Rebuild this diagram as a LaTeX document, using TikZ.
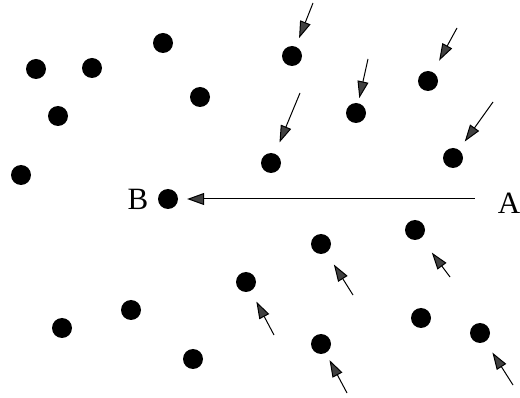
\documentclass[tikz,border=0pt]{standalone}
\usepackage{fontspec}
\setmainfont{Liberation Serif}
\usetikzlibrary{arrows.meta}
\tikzset{
  dot/.style={circle,fill=black,minimum size=20pt,inner sep=0pt},
  flow/.style={-{Triangle[length=17pt,width=11pt,fill=gray!50!black]},line width=1pt},
  lbl/.style={inner sep=0pt,font=\fontsize{31}{31}\selectfont}
}
\begin{document}
\begin{tikzpicture}[x=1pt,y=-1pt]
\useasboundingbox (0,0) rectangle (520,398);

% dots on the left, no arrows
\node[dot] (p1) at (36,69) {};
\node[dot] (p2) at (92,68) {};
\node[dot] (p3) at (163,43) {};
\node[dot] (p4) at (58,116) {};
\node[dot] (p5) at (200,97) {};
\node[dot] (p6) at (21,175) {};
\node[dot] (p7) at (62,328) {};
\node[dot] (p8) at (131,310) {};
\node[dot] (p9) at (193,359) {};
\node[dot] (p10) at (421,318) {};

% dots hit by arrows
\node[dot] (a1) at (292,56) {};
\node[dot] (a2) at (428,81) {};
\node[dot] (a3) at (356,113) {};
\node[dot] (a4) at (271,163) {};
\node[dot] (a5) at (453,158) {};
\node[dot] (a6) at (321,244) {};
\node[dot] (a7) at (415,230) {};
\node[dot] (a8) at (480,333) {};
\node[dot] (a9) at (321,344) {};
\node[dot] (a10) at (246,282) {};

\coordinate (t1) at (313,3);
\coordinate (t2) at (457,28);
\coordinate (t3) at (368,59);
\coordinate (t4) at (300,93);
\coordinate (t5) at (493,102);
\coordinate (t6) at (353,295);
\coordinate (t7) at (450,277);
\coordinate (t8) at (513,385);
\coordinate (t9) at (347,393);
\coordinate (t10) at (274,335);

\foreach \i/\g in {1/9,2/13,3/5,4/12,5/10,6/14,7/18,8/13,9/8,10/12}
  \draw[flow,shorten >=\g pt] (t\i) -- (a\i);

% A and B
\node[lbl] (A) at (509,203) {A};
\node[lbl] (B) at (138,199) {B};
\node[dot] (b) at (168,199) {};
\draw[-{Triangle[length=17pt,width=12pt,fill=gray!50!black]},line width=1pt,
  shorten <=23pt,shorten >=9pt] (A.west |- b) -- (b);
\end{tikzpicture}
\end{document}
